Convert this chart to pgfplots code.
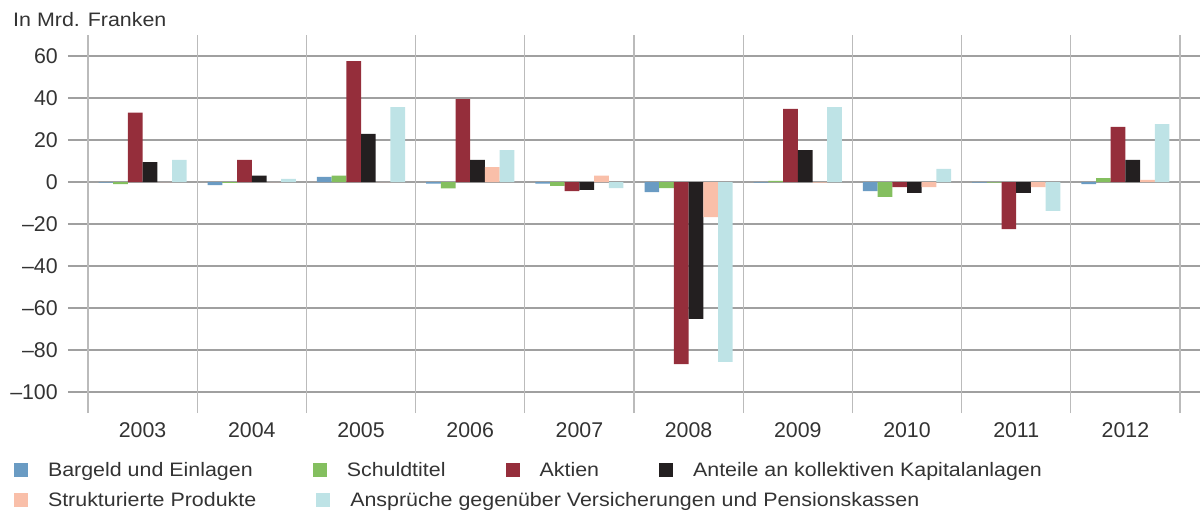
\documentclass[border=0pt]{standalone}
\usepackage{pgfplots}
\pgfplotsset{compat=1.18}
\usepackage{pgfplotstable}
\usepackage{fontspec}
\setmainfont{Liberation Sans}[FakeStretch=1.1]
\newfontfamily\tickfont{Liberation Sans}
\definecolor{cBlue}{HTML}{6A9BC3}
\definecolor{cGreen}{HTML}{84BF5F}
\definecolor{cRed}{HTML}{952E3B}
\definecolor{cBlack}{HTML}{231F20}
\definecolor{cSalmon}{HTML}{F9BFA9}
\definecolor{cCyan}{HTML}{BEE3E6}
\definecolor{txt}{HTML}{333333}
\definecolor{gridH}{HTML}{A0A0A0}
\definecolor{gridV}{HTML}{BBBBBB}

\pgfplotstableread{
x    b     s     a      k      p      v
0.5  -0.3  -1.0  33.0   9.5    0.0    10.5
1.5  -1.5  -0.4  10.5   3.0    0.0    1.5
2.5  2.5   3.0   57.6   22.9   0.0    35.7
3.5  -0.8  -3.0  39.5   10.5   7.1    15.2
4.5  -0.8  -1.9  -4.3   -3.8   3.0    -2.9
5.5  -4.8  -2.9  -86.7  -65.2  -16.7  -85.7
6.5  -0.3  0.5   34.8   15.2   -0.3   35.7
7.5  -4.3  -7.1  -2.4   -5.2   -2.4   6.2
8.5  -0.3  -0.3  -22.4  -5.2   -2.4   -13.8
9.5  -1.0  1.9   26.2   10.5   1.0    27.6
}\data

\pgfplotsset{
  legrow/.style={
    at={(0,0)}, anchor=south west,
    scale only axis, width=849pt, height=283.5pt,
    hide axis, xmin=0, xmax=1, ymin=0, ymax=1,
    legend columns=-1,
    legend image code/.code={\fill[##1] (0pt,-5.25pt) rectangle (10.5pt,5.25pt);},
  },
}

\begin{document}
\begin{tikzpicture}[font=\fontsize{14.6}{17}\selectfont]
\useasboundingbox (-51pt,-76.5pt) rectangle (849pt,309.75pt);
\begin{axis}[
  at={(0,0)}, anchor=south west,
  scale only axis, width=849pt, height=283.5pt,
  xmin=-0.1832, xmax=10.1832, ymin=-110, ymax=70,
  axis line style={draw=none},
  major tick length=0pt,
  xtick={0.5,1.5,2.5,3.5,4.5,5.5,6.5,7.5,8.5,9.5},
  xticklabels={2003,2004,2005,2006,2007,2008,2009,2010,2011,2012},
  ytick={-100,-80,-60,-40,-20,0,20,40,60},
  yticklabels={\textendash100,\textendash80,\textendash60,\textendash40,\textendash20,0,20,40,60},
  ymajorgrids,
  major grid style={color=gridH, line width=0.8pt},
  extra x ticks={0,1,2,3,4,5,6,7,8,9,10},
  extra x tick labels={},
  extra x tick style={grid=major, major grid style={color=gridV, line width=0.8pt}},
  ticklabel style={font=\tickfont\fontsize{16}{18}\selectfont, text=txt},
  yticklabel style={inner sep=0pt, xshift=-7.5pt},
  xticklabel style={inner sep=0pt, yshift=-6.75pt},
  ybar, bar width=0.1346,
  clip=false,
]
\addplot[fill=cBlue, draw=none, bar shift=-0.3365] table[x=x,y=b]{\data};
\addplot[fill=cGreen, draw=none, bar shift=-0.2019] table[x=x,y=s]{\data};
\addplot[fill=cRed, draw=none, bar shift=-0.0673] table[x=x,y=a]{\data};
\addplot[fill=cBlack, draw=none, bar shift=0.0673] table[x=x,y=k]{\data};
\addplot[fill=cSalmon, draw=none, bar shift=0.2019] table[x=x,y=p]{\data};
\addplot[fill=cCyan, draw=none, bar shift=0.3365] table[x=x,y=v]{\data};
\node[anchor=west, inner sep=0pt, text=txt] at (axis description cs:-0.0486,1.0405) {In Mrd. Franken};
\end{axis}

\begin{axis}[legrow,
  legend style={at={(axis description cs:-0.0477,-0.1508)}, anchor=west,
    draw=none, fill=none, inner sep=0pt, outer sep=0pt,
    nodes={inner sep=0pt, text=txt},
    /tikz/every odd column/.append style={column sep=15pt},
    /tikz/every even column/.append style={column sep=45pt}},
]
\addlegendimage{fill=cBlue, draw=none}\addlegendentry{Bargeld und Einlagen}
\addlegendimage{fill=cGreen, draw=none}\addlegendentry{Schuldtitel}
\addlegendimage{fill=cRed, draw=none}\addlegendentry{Aktien}
\addlegendimage{fill=cBlack, draw=none}\addlegendentry{Anteile an kollektiven Kapitalanlagen}
\end{axis}

\begin{axis}[legrow,
  legend style={at={(axis description cs:-0.0477,-0.2302)}, anchor=west,
    draw=none, fill=none, inner sep=0pt, outer sep=0pt,
    nodes={inner sep=0pt, text=txt},
    /tikz/every odd column/.append style={column sep=15pt},
    /tikz/every even column/.append style={column sep=45pt}},
]
\addlegendimage{fill=cSalmon, draw=none}\addlegendentry{Strukturierte Produkte}
\addlegendimage{fill=cCyan, draw=none}\addlegendentry{Ansprüche gegenüber Versicherungen und Pensionskassen}
\end{axis}
\end{tikzpicture}
\end{document}
